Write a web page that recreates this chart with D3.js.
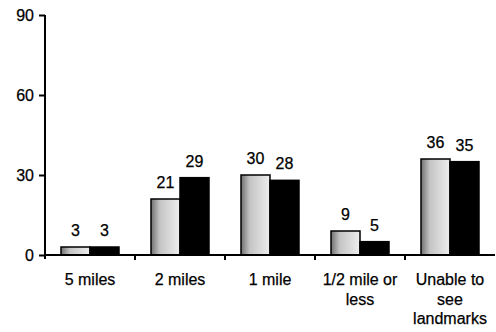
<!DOCTYPE html>
<html><head><meta charset="utf-8">
<script src="https://cdn.jsdelivr.net/npm/d3@7"></script>
<style>body{margin:0;background:#fff}svg{display:block}text{font-family:"Liberation Sans",Arial,sans-serif;stroke:#000;stroke-width:0.25px}</style>
</head><body>
<script>
const categories = [["5 miles"], ["2 miles"], ["1 mile"], ["1/2 mile or", "less"], ["Unable to", "see", "landmarks"]];
const seriesA = [3, 21, 30, 9, 36];
const seriesB = [3, 29, 28, 5, 35];
const yTicks = [0, 30, 60, 90];

const W = 496, H = 332;
const svg = d3.select("body").append("svg").attr("width", W).attr("height", H);
const defs = svg.append("defs");
const g1 = defs.append("linearGradient").attr("id", "stip").attr("x1", 0).attr("x2", 1).attr("y1", 0).attr("y2", 0);
g1.append("stop").attr("offset", "0").attr("stop-color", "#707070");
g1.append("stop").attr("offset", "0.3").attr("stop-color", "#c4c4c4");
g1.append("stop").attr("offset", "1").attr("stop-color", "#eeeeee");

const x0 = d3.scaleBand().domain(d3.range(categories.length)).range([45, 495]).paddingInner(0).paddingOuter(0);
const y = d3.scaleLinear().domain([0, 90]).range([255, 15]);
const bw = 29;

const yAxis = d3.axisLeft(y).tickValues(yTicks).tickSize(6).tickPadding(5);
const ya = svg.append("g").attr("transform", "translate(45,0)").call(yAxis);
ya.select(".domain").remove();
ya.selectAll("line").attr("stroke", "#000").attr("stroke-width", 2);
ya.selectAll("text").attr("font-size", 16).attr("fill", "#000");
svg.append("line").attr("x1", 45).attr("x2", 45).attr("y1", y(90)).attr("y2", y(0) + 4).attr("stroke", "#000").attr("stroke-width", 2);

const groups = svg.append("g").selectAll("g").data(categories).join("g");
groups.each(function(c, i) {
  const cx = x0(i) + x0.bandwidth() / 2;
  const gg = d3.select(this);
  [[seriesA[i], "url(#stip)", -bw], [seriesB[i], "#000", 0]].forEach(([v, fill, off]) => {
    gg.append("rect").attr("x", cx + off).attr("y", y(v)).attr("width", bw).attr("height", y(0) - y(v))
      .attr("fill", fill).attr("stroke", "#000").attr("stroke-width", 1.5);
    gg.append("text").attr("x", cx + off + bw / 2).attr("y", y(v) - 11).attr("text-anchor", "middle")
      .attr("font-size", 16).text(v);
  });
  const t = gg.append("text").attr("text-anchor", "middle").attr("font-size", 16).attr("x", cx).attr("y", 285);
  c.forEach((line, k) => t.append("tspan").attr("x", cx).attr("dy", k ? 19.5 : 0).text(line));
});

svg.append("line").attr("x1", 45).attr("x2", 495).attr("y1", y(0)).attr("y2", y(0)).attr("stroke", "#000").attr("stroke-width", 2);
x0.domain().slice(1).forEach(i => {
  svg.append("line").attr("x1", x0(i)).attr("x2", x0(i)).attr("y1", y(0)).attr("y2", y(0) + 5).attr("stroke", "#000").attr("stroke-width", 2);
});
</script>
</body></html>
